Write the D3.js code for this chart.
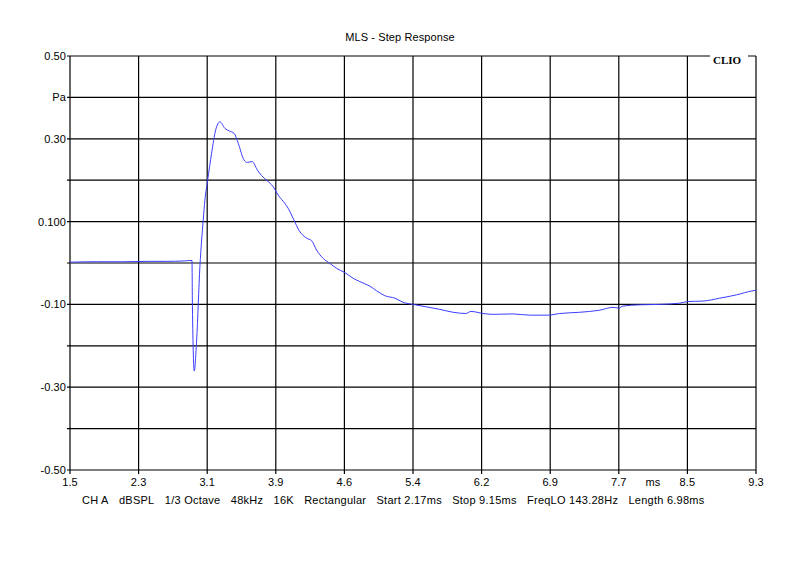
<!DOCTYPE html>
<html>
<head>
  <meta charset="UTF-8" />
  <title>MLS - Step Response</title>
  <script src="https://d3js.org/d3.v7.min.js"></script>
  <style>
    body { margin: 0; background: #fff; }
    text { font-family: "Liberation Sans", Arial, sans-serif; font-size: 11px; fill: #000; letter-spacing: 0.1px; }
    .footer { letter-spacing: 0.25px; }
    .grid line { stroke: #000; stroke-width: 1.2; }
    .curve { fill: none; stroke: #3c3cff; stroke-width: 1; }
    .clio { font-family: "Liberation Serif", serif; font-weight: bold; letter-spacing: 0; }
  </style>
</head>
<body>
<svg id="chart" width="800" height="565"></svg>

<script>
  // time (ms) and step response (Pa)
  const timeMs = [
    1.50, 1.80, 2.10, 2.40, 2.60, 2.80, 2.864, 2.887, 2.892, 2.913, 2.940, 2.977,
    3.015, 3.034, 3.065, 3.110, 3.156, 3.205, 3.262, 3.310, 3.367, 3.413, 3.478,
    3.515, 3.572, 3.629, 3.679, 3.736, 3.811, 3.867, 3.943, 3.981, 4.046, 4.106,
    4.190, 4.247, 4.304, 4.379, 4.455, 4.531, 4.625, 4.720, 4.796, 4.910, 4.986,
    5.080, 5.194, 5.288, 5.402, 5.554, 5.705, 5.856, 6.000, 6.060, 6.197, 6.311,
    6.538, 6.728, 6.936, 7.069, 7.296, 7.523, 7.675, 7.739, 7.788, 7.978, 8.205,
    8.432, 8.527, 8.697, 8.887, 9.077, 9.266, 9.300
  ];
  const pressurePa = [
    0.002, 0.003, 0.003, 0.004, 0.004, 0.005, 0.006, 0.006, -0.106, -0.261, -0.186, -0.009,
    0.104, 0.152, 0.200, 0.265, 0.321, 0.341, 0.325, 0.319, 0.313, 0.289, 0.249,
    0.243, 0.245, 0.225, 0.211, 0.200, 0.184, 0.164, 0.144, 0.132, 0.104, 0.078,
    0.060, 0.054, 0.031, 0.011, -0.001, -0.013, -0.023, -0.037, -0.045, -0.056, -0.067,
    -0.079, -0.085, -0.095, -0.100, -0.106, -0.112, -0.119, -0.122, -0.117, -0.122, -0.124,
    -0.123, -0.126, -0.126, -0.122, -0.119, -0.114, -0.107, -0.109, -0.104, -0.101, -0.100,
    -0.097, -0.093, -0.092, -0.085, -0.077, -0.067, -0.066
  ];

  const xTickLabels = ["1.5", "2.3", "3.1", "3.9", "4.6", "5.4", "6.2", "6.9", "7.7", "8.5", "9.3"];
  // top to bottom
  const yTickLabels = ["0.50", "Pa", "0.30", "", "0.100", "", "-0.10", "", "-0.30", "", "-0.50"];
  const footerItems = ["CH A", "dBSPL", "1/3 Octave", "48kHz", "16K", "Rectangular",
    "Start 2.17ms", "Stop 9.15ms", "FreqLO 143.28Hz", "Length 6.98ms"];

  const plotLeft = 70, plotRight = 756, plotTop = 56, plotBottom = 470;
  const xMin = 1.5, xMax = 9.3;

  const svg = d3.select("#chart");
  const x = d3.scaleLinear().domain([xMin, xMax]).range([plotLeft, plotRight]);
  const y = d3.scaleLinear().domain([-0.5, 0.5]).range([plotBottom, plotTop]);

  const xTicks = d3.range(xTickLabels.length).map(i => xMin + i * (xMax - xMin) / (xTickLabels.length - 1));
  const yTicks = d3.range(yTickLabels.length).map(i => 0.5 - i * 0.1);

  svg.append("rect").attr("width", 800).attr("height", 565).attr("fill", "#fff");

  // grid
  const grid = svg.append("g").attr("class", "grid");
  grid.selectAll(".v").data(xTicks).enter().append("line")
    .attr("x1", d => x(d)).attr("x2", d => x(d))
    .attr("y1", plotTop).attr("y2", plotBottom + 4);
  grid.selectAll(".h").data(yTicks).enter().append("line")
    .attr("x1", plotLeft - 3).attr("x2", plotRight)
    .attr("y1", d => y(d)).attr("y2", d => y(d));

  // curve
  const pts = timeMs.map((t, i) => [t, pressurePa[i]]);
  svg.append("path")
    .attr("class", "curve")
    .attr("d", d3.line().x(d => x(d[0])).y(d => y(d[1])).curve(d3.curveMonotoneX)(pts));

  // axis labels
  svg.selectAll(".xl").data(xTicks).enter().append("text")
    .attr("x", d => x(d)).attr("y", plotBottom + 16)
    .attr("text-anchor", "middle")
    .text((d, i) => xTickLabels[i]);
  svg.append("text").attr("x", 653).attr("y", plotBottom + 16).attr("text-anchor", "middle").text("ms");

  svg.selectAll(".yl").data(yTicks).enter().append("text")
    .attr("x", plotLeft - 4).attr("y", d => y(d) + 4)
    .attr("text-anchor", "end")
    .text((d, i) => yTickLabels[i]);

  // title
  svg.append("text").attr("x", 400).attr("y", 41).attr("text-anchor", "middle").text("MLS - Step Response");

  // CLIO badge breaking the top border
  svg.append("rect").attr("x", 710).attr("y", plotTop - 2).attr("width", 38).attr("height", 5).attr("fill", "#fff");
  svg.append("text").attr("class", "clio").attr("x", 713).attr("y", 64).text("CLIO");

  // footer settings line
  let fx = 82;
  footerItems.forEach(s => {
    const t = svg.append("text").attr("class", "footer").attr("x", fx).attr("y", 504).text(s);
    fx += t.node().getComputedTextLength() + 10.3;
  });
</script>
</body>
</html>
